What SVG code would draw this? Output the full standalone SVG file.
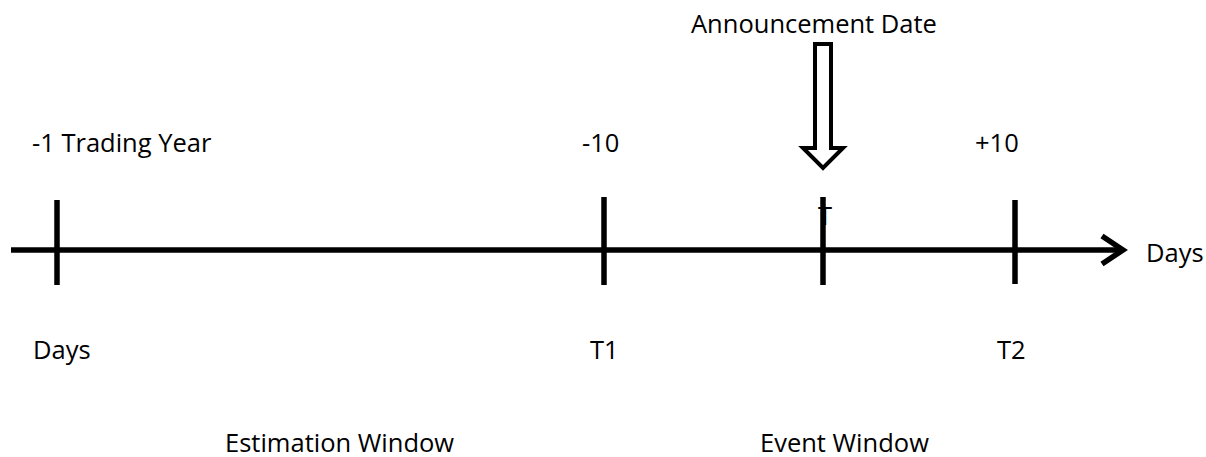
<svg xmlns="http://www.w3.org/2000/svg" width="1206" height="457" viewBox="0 0 1206 457">
<style>
.t{font-family:"Open Sans","Liberation Sans",sans-serif;font-size:25.5px;fill:#000}
.ln{stroke:#000;stroke-width:5.5;fill:none}
</style>
<rect width="1206" height="457" fill="#fff"/>
<g id="connectors">
<line class="ln" x1="11" y1="250" x2="1122" y2="250"/>
<polyline class="ln" points="1102,236 1123,250 1102,264" stroke-width="6"/>
</g>
<g id="tick-start"><line class="ln" x1="57" y1="200" x2="57" y2="285"/>
<text class="t" x="32" y="152">-1 Trading Year</text>
<text class="t" x="33" y="359">Days</text></g>
<g id="tick-t1"><line class="ln" x1="604" y1="197" x2="604" y2="285"/>
<text class="t" x="582" y="152">-10</text>
<text class="t" x="590" y="359">T1</text></g>
<g id="tick-event"><text class="t" x="818" y="225">T</text>
<line class="ln" x1="823" y1="197" x2="823" y2="285"/></g>
<g id="tick-t2"><line class="ln" x1="1015" y1="200" x2="1015" y2="284"/>
<text class="t" x="975" y="152">+10</text>
<text class="t" x="997" y="359">T2</text></g>
<g id="announcement">
<text class="t" x="691" y="33">Announcement Date</text>
<polygon points="815,44 831,44 831,148 843,148 823,168 803,148 815,148" fill="#fff" stroke="#000" stroke-width="4"/>
</g>
<g id="axis-label"><text class="t" x="1146" y="262">Days</text></g>
<g id="estimation-window"><text class="t" x="225" y="452">Estimation Window</text></g>
<g id="event-window"><text class="t" x="760" y="452">Event Window</text></g>
</svg>
